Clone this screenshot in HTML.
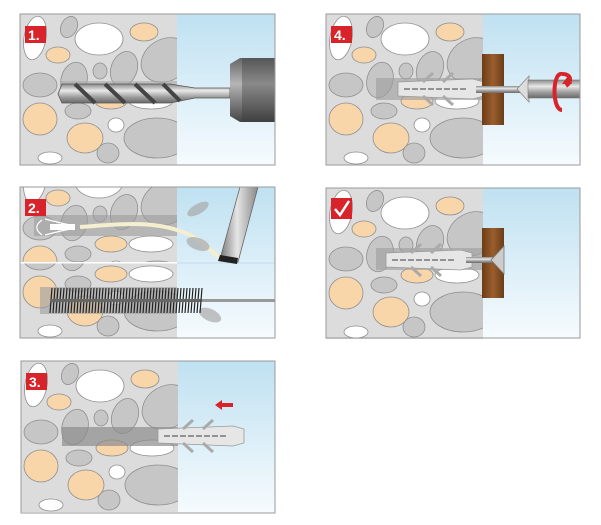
<!DOCTYPE html>
<html><head><meta charset="utf-8"><style>
html,body{margin:0;padding:0;background:#fff;width:601px;height:525px;overflow:hidden}
svg{display:block}
text{font-family:"Liberation Sans",sans-serif;font-weight:bold}
</style></head><body>
<svg width="601" height="525" viewBox="0 0 601 525" xmlns="http://www.w3.org/2000/svg">
<defs>
<linearGradient id="sky" x1="0" y1="0" x2="0" y2="1">
<stop offset="0" stop-color="#bfe1f1"/><stop offset="1" stop-color="#f6fbfe"/>
</linearGradient>
<linearGradient id="metal" x1="0" y1="0" x2="0" y2="1">
<stop offset="0" stop-color="#8a8a8a"/><stop offset="0.35" stop-color="#e8e8e8"/><stop offset="0.7" stop-color="#9a9a9a"/><stop offset="1" stop-color="#6a6a6a"/>
</linearGradient>
<linearGradient id="chuck" x1="0" y1="0" x2="0" y2="1">
<stop offset="0" stop-color="#666"/><stop offset="0.4" stop-color="#b5b5b5"/><stop offset="1" stop-color="#444"/>
</linearGradient>
<linearGradient id="tube" x1="0" y1="0" x2="1" y2="0">
<stop offset="0" stop-color="#777"/><stop offset="0.45" stop-color="#e5e5e5"/><stop offset="1" stop-color="#888"/>
</linearGradient>
<linearGradient id="wood" x1="0" y1="0" x2="1" y2="0">
<stop offset="0" stop-color="#6b3d18"/><stop offset="0.5" stop-color="#9a5e2c"/><stop offset="1" stop-color="#6b3d18"/>
</linearGradient>
<clipPath id="wallclip"><rect x="0" y="0" width="157" height="151"/></clipPath>
<clipPath id="topclip"><rect x="0" y="0" width="157" height="76"/></clipPath>
<clipPath id="botclip"><rect x="0" y="76" width="157" height="75"/></clipPath>
<g id="stones" stroke="#8f8f8f" stroke-width="0.8">
<rect x="0" y="0" width="157" height="151" fill="#dcdcdc" stroke="none"/>
<ellipse cx="15" cy="24" rx="11" ry="22" fill="#fff" transform="rotate(10 15 24)"/>
<ellipse cx="49" cy="13" rx="8" ry="11" fill="#c6c6c6" transform="rotate(25 49 13)"/>
<ellipse cx="79" cy="25" rx="24" ry="16" fill="#fff"/>
<ellipse cx="124" cy="18" rx="14" ry="9" fill="#f8d6aa"/>
<ellipse cx="38" cy="41" rx="12" ry="8" fill="#f8d6aa"/>
<ellipse cx="146" cy="46" rx="26" ry="21" fill="#c6c6c6" transform="rotate(-30 146 46)"/>
<ellipse cx="104" cy="55" rx="13" ry="18" fill="#c6c6c6" transform="rotate(20 104 55)"/>
<ellipse cx="80" cy="57" rx="7" ry="8" fill="#c6c6c6"/>
<ellipse cx="54" cy="66" rx="13" ry="18" fill="#c6c6c6" transform="rotate(15 54 66)"/>
<ellipse cx="20" cy="71" rx="17" ry="12" fill="#c6c6c6"/>
<ellipse cx="91" cy="87" rx="16" ry="8" fill="#f8d6aa"/>
<ellipse cx="131" cy="87" rx="22" ry="8" fill="#fff"/>
<ellipse cx="20" cy="105" rx="17" ry="16" fill="#f8d6aa"/>
<ellipse cx="58" cy="97" rx="13" ry="8" fill="#c6c6c6"/>
<ellipse cx="96" cy="111" rx="8" ry="7" fill="#fff"/>
<ellipse cx="65" cy="124" rx="18" ry="15" fill="#f8d6aa"/>
<ellipse cx="137" cy="124" rx="33" ry="20" fill="#c6c6c6"/>
<ellipse cx="88" cy="139" rx="11" ry="10" fill="#c6c6c6"/>
<ellipse cx="30" cy="144" rx="12" ry="6" fill="#fff"/>
</g>
<g id="dowel">
<path d="M0,3 L75,0 L86,3 L86,17 L75,20 L0,17 Z" fill="#e6e6e6" stroke="#9a9a9a" stroke-width="0.8"/>
<line x1="6" y1="10" x2="70" y2="10" stroke="#777" stroke-width="1.5" stroke-dasharray="6 2"/>
<path d="M25,3 L35,-6 M45,3 L55,-6 M25,17 L35,26 M45,17 L55,26" stroke="#aaa" stroke-width="3"/>
</g>
</defs>

<!-- PANEL 1 -->
<g transform="translate(20,14)">
<g clip-path="url(#wallclip)"><use href="#stones"/></g>
<rect x="157" y="0" width="98" height="151" fill="url(#sky)"/>
<rect x="40" y="67" width="117" height="20" fill="#a8a8a8" opacity="0.6"/>
<path d="M42,70 L150,70 L175,74 L210,74 L210,84 L175,84 L150,89 L42,89 L38,80 Z" fill="url(#metal)" stroke="#555" stroke-width="0.8"/>
<path d="M55,70 L75,89 M85,70 L105,89 M115,70 L135,89 M143,70 L160,87" stroke="#444" stroke-width="4"/>
<path d="M210,50 L220,44 L255,44 L255,108 L220,108 L210,102 Z" fill="url(#chuck)"/>
<rect x="222" y="44" width="33" height="64" fill="#3a3a3a" opacity="0.35"/>
<rect x="0" y="0" width="255" height="151" fill="none" stroke="#9a9a9a" stroke-width="1"/>
<rect x="5" y="12" width="21" height="17" fill="#d9232a"/>
<text x="8" y="26" font-size="14" fill="#fff">1.</text>
</g>

<!-- PANEL 4 -->
<g transform="translate(326,14)">
<g clip-path="url(#wallclip)"><use href="#stones"/></g>
<rect x="157" y="0" width="97" height="151" fill="url(#sky)"/>
<rect x="50" y="64" width="107" height="22" fill="#a0a0a0" opacity="0.65"/>
<use href="#dowel" transform="translate(72,65)"/>
<rect x="156" y="40" width="22" height="71" fill="url(#wood)"/>
<rect x="150" y="72" width="52" height="7" fill="url(#metal)"/>
<path d="M191,75 L203,62 L203,88 Z" fill="#ddd" stroke="#888" stroke-width="0.8"/>
<rect x="202" y="66" width="52" height="18" fill="url(#metal)" stroke="#777" stroke-width="0.6"/>
<path d="M236,60 C226,58 226,96 236,96" fill="none" stroke="#d9232a" stroke-width="4"/>
<path d="M236,60 C246,60 246,68 240,72" fill="none" stroke="#d9232a" stroke-width="4"/>
<path d="M236,70 L246,70 L242,62 Z" fill="#d9232a"/>
<rect x="0" y="0" width="254" height="151" fill="none" stroke="#9a9a9a" stroke-width="1"/>
<rect x="5" y="12" width="21" height="17" fill="#d9232a"/>
<text x="8" y="26" font-size="14" fill="#fff">4.</text>
</g>

<!-- PANEL 2 -->
<g transform="translate(20,187)">
<g clip-path="url(#topclip)"><use href="#stones" transform="translate(0,-30)"/></g>
<g clip-path="url(#botclip)"><use href="#stones"/></g>
<rect x="157" y="0" width="98" height="151" fill="url(#sky)"/>
<rect x="0" y="75" width="157" height="1.5" fill="#fff"/>
<rect x="157" y="75" width="98" height="2" fill="#cfe6f2"/>
<rect x="14" y="28" width="143" height="21" fill="#9c9c9c" opacity="0.6"/>
<path d="M22,33 C15,38 15,43 22,48" fill="none" stroke="#fff" stroke-width="1.2"/>
<path d="M25,32 C33,34 40,36 50,38 M25,48 C33,46 40,44 50,42" fill="none" stroke="#fff" stroke-width="1.2"/>
<rect x="30" y="37" width="25" height="6" fill="#fff"/>
<path d="M60,40 C110,36 140,34 170,48 C185,56 190,65 200,70" fill="none" stroke="#f5efcf" stroke-width="4"/>
<g fill="#aaa" opacity="0.7">
<ellipse cx="178" cy="22" rx="12" ry="5" transform="rotate(-30 178 22)"/>
<ellipse cx="178" cy="57" rx="12" ry="6" transform="rotate(20 178 57)"/>
<ellipse cx="190" cy="128" rx="12" ry="6" transform="rotate(25 190 128)"/>
</g>
<path d="M220,0 L238,0 L218,75 L200,72 Z" fill="url(#tube)" stroke="#666" stroke-width="0.8"/>
<path d="M200,68 L218,71 L217,77 L198,74 Z" fill="#222"/>
<rect x="20" y="100" width="137" height="27" fill="#9c9c9c" opacity="0.6"/>
<rect x="180" y="112" width="75" height="3" fill="#999"/>
<g stroke="#222" stroke-width="1.2">
<path d="M32,101 L30,126 M35,101 L33,126 M38,101 L36,126 M41,101 L39,126 M44,101 L42,126 M47,101 L45,126 M50,101 L48,126 M53,101 L51,126 M56,101 L54,126 M59,101 L57,126 M62,101 L60,126 M65,101 L63,126 M68,101 L66,126 M71,101 L69,126 M74,101 L72,126 M77,101 L75,126 M80,101 L78,126 M83,101 L81,126 M86,101 L84,126 M89,101 L87,126 M92,101 L90,126 M95,101 L93,126 M98,101 L96,126 M101,101 L99,126 M104,101 L102,126 M107,101 L105,126 M110,101 L108,126 M113,101 L111,126 M116,101 L114,126 M119,101 L117,126 M122,101 L120,126 M125,101 L123,126 M128,101 L126,126 M131,101 L129,126 M134,101 L132,126 M137,101 L135,126 M140,101 L138,126 M143,101 L141,126 M146,101 L144,126 M149,101 L147,126 M152,101 L150,126 M155,101 L153,126 M158,101 L156,126 M161,101 L159,126 M164,101 L162,126 M167,101 L165,126 M170,101 L168,126 M173,101 L171,126 M176,101 L174,126 M179,101 L177,126 M182,101 L180,126"/>
</g>
<rect x="30" y="112" width="150" height="3" fill="#666"/>
<rect x="0" y="0" width="255" height="151" fill="none" stroke="#9a9a9a" stroke-width="1"/>
<rect x="5" y="12" width="21" height="17" fill="#d9232a"/>
<text x="8" y="26" font-size="14" fill="#fff">2.</text>
</g>

<!-- PANEL CHECK -->
<g transform="translate(326,188)">
<g clip-path="url(#wallclip)"><use href="#stones"/></g>
<rect x="157" y="0" width="97" height="150" fill="url(#sky)"/>
<rect x="50" y="60" width="107" height="22" fill="#a0a0a0" opacity="0.65"/>
<use href="#dowel" transform="translate(60,62)"/>
<rect x="156" y="40" width="22" height="70" fill="url(#wood)"/>
<rect x="140" y="69" width="30" height="6" fill="url(#metal)"/>
<path d="M165,72 L178,58 L178,86 Z" fill="#ccc" stroke="#777" stroke-width="0.8"/>
<rect x="0" y="0" width="254" height="150" fill="none" stroke="#9a9a9a" stroke-width="1"/>
<rect x="5" y="10" width="21" height="21" fill="#d9232a"/>
<path d="M9,21 L14,27 L23,13" fill="none" stroke="#fff" stroke-width="2.5"/>
</g>

<!-- PANEL 3 -->
<g transform="translate(21,361)">
<g clip-path="url(#wallclip)"><use href="#stones"/></g>
<rect x="157" y="0" width="97" height="152" fill="url(#sky)"/>
<rect x="41" y="66" width="116" height="19" fill="#8c8c8c" opacity="0.7"/>
<use href="#dowel" transform="translate(137,65)"/>
<path d="M194,44 L201,39 L201,42 L212,42 L212,46 L201,46 L201,49 Z" fill="#d9232a"/>
<rect x="0" y="0" width="254" height="152" fill="none" stroke="#9a9a9a" stroke-width="1"/>
<rect x="5" y="12" width="21" height="17" fill="#d9232a"/>
<text x="8" y="26" font-size="14" fill="#fff">3.</text>
</g>
</svg>
</body></html>
